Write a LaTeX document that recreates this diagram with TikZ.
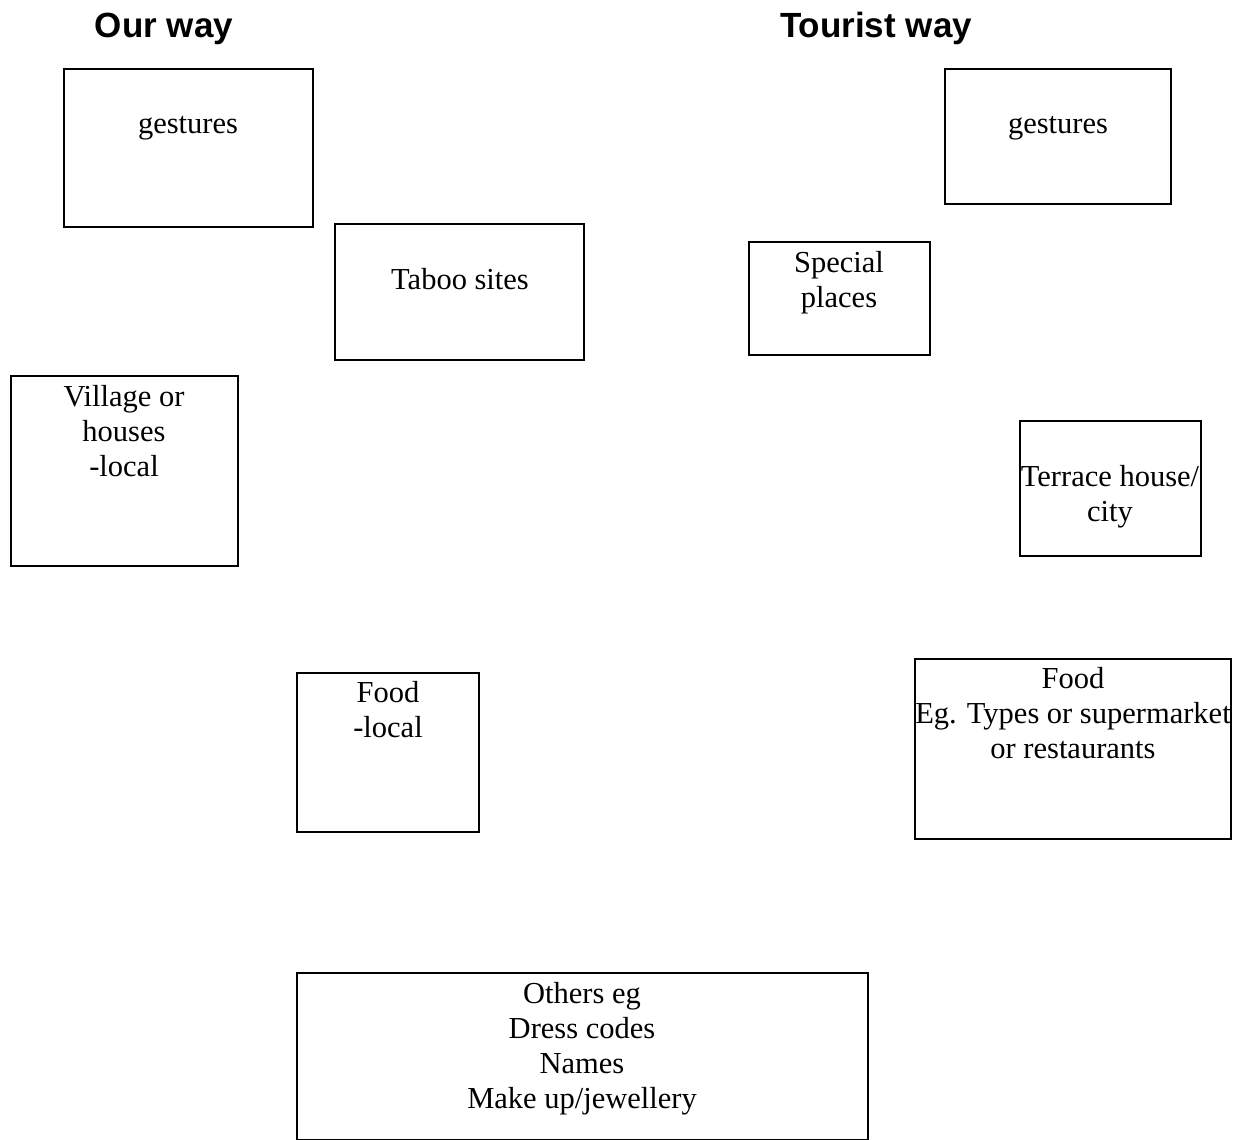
\documentclass[tikz,border=0pt]{standalone}
\usepackage{fontspec}
\setmainfont{Liberation Serif}
\newfontfamily\titlefont{Liberation Sans}
\begin{document}
\begin{tikzpicture}[x=1pt,y=-1pt,
  boxst/.style={draw=black,line width=1.3pt},
  txt/.style={align=center,inner sep=0pt,anchor=base,font=\fontsize{30.5}{35}\selectfont},
  ttl/.style={inner sep=0pt,anchor=base,font=\titlefont\bfseries\fontsize{35}{40}\selectfont}]
\useasboundingbox (0,0) rectangle (1243,1140);
\node[ttl] (t1) at (164,38) {Our way};
\node[ttl] (t2) at (876,38) {Tourist way};
% boxes
\draw[boxst] (64,69) rectangle (313,227);
\draw[boxst] (335,224) rectangle (584,360);
\draw[boxst] (11,376) rectangle (238,566);
\draw[boxst] (297,673) rectangle (479,832);
\draw[boxst] (297,973) rectangle (868,1139.3);
\draw[boxst] (945,69) rectangle (1171,204);
\draw[boxst] (749,242) rectangle (930,355);
\draw[boxst] (1020,421) rectangle (1201,556);
\draw[boxst] (915,659) rectangle (1231,839);
% texts (anchored at the baseline of the last line)
\node[txt] (g1) at (188,133) {gestures};
\node[txt] (ts) at (460,289) {Taboo sites};
\node[txt] (vl) at (124,476) {Village or\\houses\\-local};
\node[txt] (fl) at (388,737) {Food\\-local};
\node[txt] (ot) at (582,1108) {Others eg\\Dress codes\\Names\\Make up/jewellery};
\node[txt] (g2) at (1058,133) {gestures};
\node[txt] (sp) at (839,307) {Special\\places};
\node[txt] (th) at (1110,521) {Terrace house/\\city};
\node[txt] (fr) at (1073,758) {Food\\Eg. Types or supermarket\\or restaurants};
\end{tikzpicture}
\end{document}
